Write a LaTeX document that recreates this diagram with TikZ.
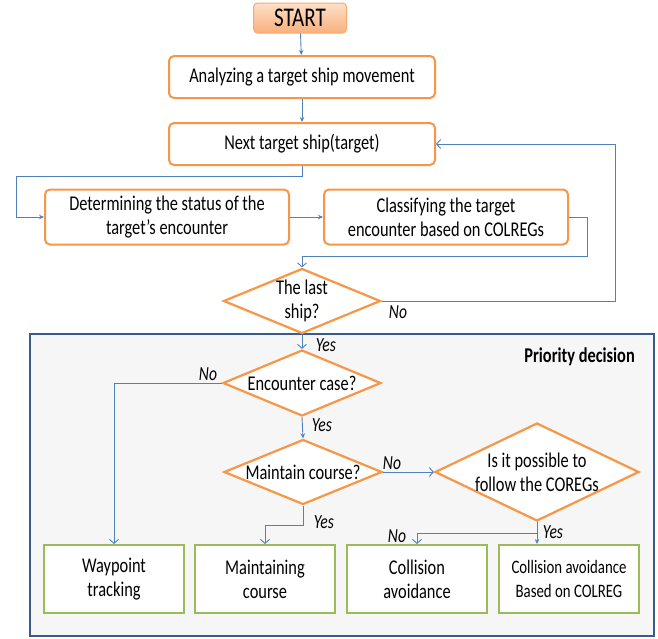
\documentclass[tikz,border=0pt]{standalone}
\usepackage{fontspec}
\setmainfont{Carlito}[FakeStretch=0.78]
\usepackage{tikz}
\usetikzlibrary{arrows.meta,shapes}
\definecolor{boxorange}{HTML}{F79646}
\definecolor{flowblue}{HTML}{4F81BD}
\definecolor{panelblue}{HTML}{3A5C8C}
\definecolor{panelgray}{HTML}{F6F6F6}
\definecolor{leafgreen}{HTML}{9BBB59}
\definecolor{starttop}{HTML}{FDE0CA}
\definecolor{startbot}{HTML}{F8B07C}

\begin{document}
\begin{tikzpicture}[x=1pt, y=-1pt, font=\fontsize{21}{24}\selectfont,
	stepbox/.style={fill=white, draw=boxorange, line width=2pt, rounded corners=5pt, shape=rectangle, align=center, inner sep=0pt},
	askbox/.style={fill=white, draw=boxorange, line width=2.2pt, shape=diamond, inner sep=0pt},
	leafbox/.style={fill=white, draw=leafgreen, line width=2pt, shape=rectangle, align=center, inner sep=0pt, minimum width=140pt, minimum height=68pt},
	answer/.style={font=\fontsize{20}{24}\selectfont\itshape, inner sep=0pt},
	flow/.style={draw=flowblue, line width=0.9pt, -{Stealth[length=5pt,width=4.5pt]}},
	flowopen/.style={draw=flowblue, line width=0.9pt, -{Straight Barb[length=4pt,width=9pt]}}]
	\useasboundingbox (0, 0) rectangle (658, 638);
	
	% priority decision panel
	\node [fill=panelgray, draw=panelblue, line width=2pt, shape=rectangle, minimum width=624pt, minimum height=302pt] (panel) at (342, 485) {};
	\node [font=\fontsize{21}{24}\selectfont\bfseries, anchor=east, inner sep=0pt] (panelname) at (635, 357) {Priority decision};
	
	\node [top color=starttop, bottom color=startbot, draw=boxorange!80, line width=1pt, rounded corners=4pt, minimum width=93pt, minimum height=30pt, inner sep=0pt, font=\fontsize{27}{28}\selectfont] (start) at (300, 18) {START};
	
	\node [stepbox, minimum width=266pt, minimum height=42pt] (analyze) at (302, 77) {Analyzing a target ship movement};
	\node [stepbox, minimum width=266pt, minimum height=42pt] (next) at (302, 144) {Next target ship(target)};
	\node [stepbox, minimum width=244pt, minimum height=55pt] (determine) at (167, 217) {Determining the status of the\\target's encounter};
	\node [stepbox, minimum width=244pt, minimum height=55pt] (classify) at (446, 217) {Classifying the target\\encounter based on COLREGs};
	
	\node [askbox, minimum width=157pt, minimum height=65pt, label={[align=center]center:The last\\ship?}] (last) at (302, 301) {};
	\node [askbox, minimum width=158pt, minimum height=66pt, label={[align=center]center:Encounter case?}] (encounter) at (302, 383) {};
	\node [askbox, minimum width=158pt, minimum height=65pt, label={[align=center]center:Maintain course?}] (maintain) at (303, 472) {};
	\node [askbox, minimum width=204pt, minimum height=98pt, label={[align=center]center:Is it possible to\\follow the COREGs}] (possible) at (537, 472) {};
	
	\node [leafbox] (waypoint) at (114, 579) {Waypoint\\tracking};
	\node [leafbox] (keep) at (265, 579) {Maintaining\\course};
	\node [leafbox] (avoid) at (417, 579) {Collision\\avoidance};
	\node [leafbox, font=\fontsize{19}{24}\selectfont] (colreg) at (569, 579) {Collision avoidance\\Based on COLREG};
	
	\coordinate (loopleft) at (16, 176);
	\coordinate (classright) at (587, 256);
	\coordinate (backright) at (615, 144);
	\coordinate (keepbend) at (303, 525);
	\coordinate (possbend) at (537, 533);
	
	\draw [flow] (start) to (analyze);
	\draw [flow] (analyze) to (next);
	\draw [flow] (next.south) |- (loopleft) |- (determine.west);
	\draw [flow] (determine) to (classify);
	\draw [flowopen] (classify.east) -| (classright) -| (last.north);
	\draw [flowopen] (last.east) -| (backright) -- (next.east);
	
	\draw [flowopen] (last.south) to (encounter.north);
	\draw [flowopen] (encounter.west) -| (waypoint.north);
	\draw [flow] (encounter.south) to (maintain.north);
	\draw [flowopen] (maintain.east) to (possible.west);
	\draw [flowopen] (maintain.south) -- (keepbend) -| (keep.north);
	\draw [flow] (possible.south) -- (possible.south |- colreg.north);
	\draw [flowopen] (possbend) -| (avoid.north);
	
	\node [answer] (lastno) at (398, 312) {No};
	\node [answer] (lastyes) at (326, 345) {Yes};
	\node [answer] (encno) at (208, 374) {No};
	\node [answer] (encyes) at (322, 425) {Yes};
	\node [answer] (mainno) at (392, 463) {No};
	\node [answer] (mainyes) at (324, 522) {Yes};
	\node [answer] (possno) at (397, 536) {No};
	\node [answer] (possyes) at (553, 532) {Yes};
\end{tikzpicture}
\end{document}
